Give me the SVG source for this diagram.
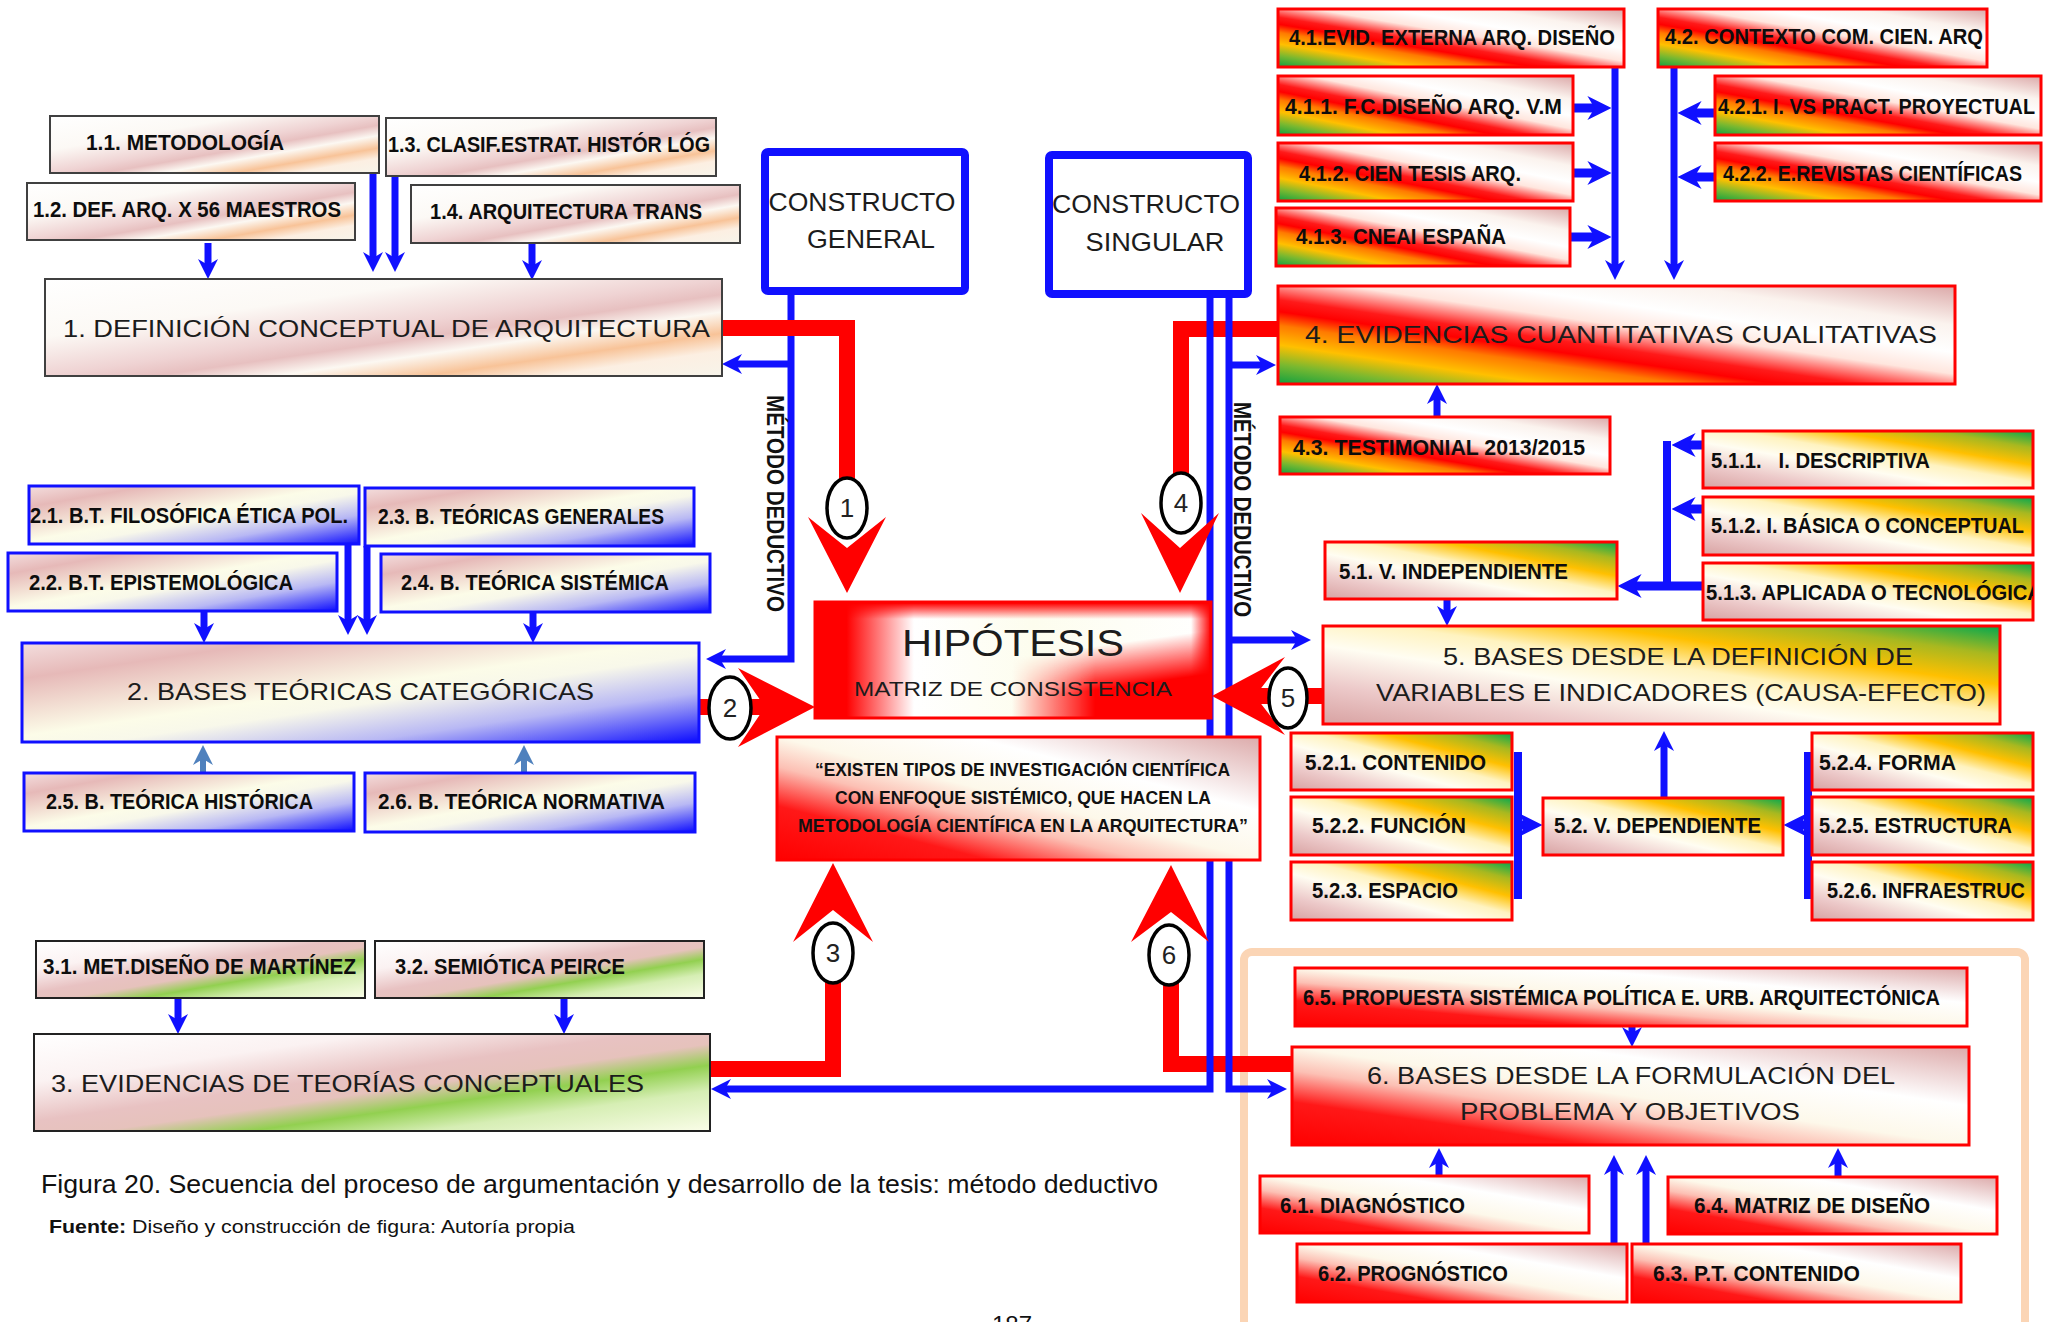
<svg xmlns="http://www.w3.org/2000/svg" width="2049" height="1322" viewBox="0 0 2049 1322">
<defs>
<style>
.lbl{font-family:"Liberation Sans",Arial,sans-serif;font-weight:bold;font-size:22px;fill:#0d0d0d}
.big{font-family:"Liberation Sans",Arial,sans-serif;font-size:24px;fill:#1c1c1c}
.q{font-family:"Liberation Sans",Arial,sans-serif;font-weight:bold;font-size:18px;fill:#111}
.num{font-family:"Liberation Sans",Arial,sans-serif;font-size:26px;fill:#222;text-anchor:middle}
.con{font-family:"Liberation Sans",Arial,sans-serif;font-size:25px;fill:#1c1c1c;text-anchor:middle}
.md{font-family:"Liberation Sans",Arial,sans-serif;font-weight:bold;font-size:24px;fill:#111}
.s1{fill:url(#g1);stroke:#404040;stroke-width:2}
.s2{fill:url(#g2);stroke:#1010ff;stroke-width:3}
.s3{fill:url(#g3);stroke:#222;stroke-width:2}
.s4{fill:url(#g4);stroke:#ff0000;stroke-width:3}
.s5{fill:url(#g5);stroke:#ff0000;stroke-width:3}
.s6{fill:url(#g6);stroke:#ff0000;stroke-width:3}
.bl{fill:none;stroke:#1010ff;stroke-width:7;stroke-linejoin:miter}
.blk{fill:none;stroke:#1010ff;stroke-width:9}
.sb{fill:none;stroke:#4f81bd;stroke-width:6}
.rd{fill:none;stroke:#ff0000;stroke-width:16;stroke-linejoin:miter}
.ra{fill:#ff0000}
.cir{fill:#fff;stroke:#000;stroke-width:3.5}
.cbox{fill:#fff;stroke:#1010ff;stroke-width:8}
</style>
<marker id="mb" viewBox="0 0 10 10" refX="4" refY="5" markerWidth="20" markerHeight="20" markerUnits="userSpaceOnUse" orient="auto"><path d="M0,0 L10,5 L0,10 L3,5z" fill="#1010ff"/></marker>
<marker id="mbB" viewBox="0 0 10 10" refX="4" refY="5" markerWidth="24" markerHeight="24" markerUnits="userSpaceOnUse" orient="auto"><path d="M0,0 L10,5 L0,10 L3,5z" fill="#1010ff"/></marker>
<marker id="ms" viewBox="0 0 10 10" refX="4" refY="5" markerWidth="20" markerHeight="20" markerUnits="userSpaceOnUse" orient="auto"><path d="M0,0 L10,5 L0,10 L3,5z" fill="#4f81bd"/></marker>
<linearGradient id="g1" x1="0" y1="0" x2="1" y2="1">
<stop offset="0" stop-color="#ffffff"/><stop offset="0.3" stop-color="#fcf9f5"/><stop offset="0.5" stop-color="#efd3d3"/><stop offset="0.58" stop-color="#e7c0c0"/><stop offset="0.67" stop-color="#fcf8f2"/><stop offset="0.78" stop-color="#f8c398"/><stop offset="0.87" stop-color="#fcefe2"/><stop offset="1" stop-color="#f7f4ea"/>
</linearGradient>
<linearGradient id="g2" x1="0" y1="0" x2="1" y2="1">
<stop offset="0" stop-color="#f3dede"/><stop offset="0.18" stop-color="#e6b9b8"/><stop offset="0.47" stop-color="#fcfce8"/><stop offset="0.56" stop-color="#f8f8ea"/><stop offset="0.75" stop-color="#b8b8f4"/><stop offset="1" stop-color="#0c0cff"/>
</linearGradient>
<linearGradient id="g3" x1="0" y1="0" x2="1" y2="1">
<stop offset="0" stop-color="#ffffff"/><stop offset="0.25" stop-color="#fbf2f2"/><stop offset="0.45" stop-color="#e8c2c2"/><stop offset="0.55" stop-color="#e6c2bc"/><stop offset="0.66" stop-color="#92d050"/><stop offset="0.79" stop-color="#d6eeb4"/><stop offset="1" stop-color="#fafde8"/>
</linearGradient>
<linearGradient id="g4" x1="0" y1="1" x2="1" y2="0">
<stop offset="0" stop-color="#10a040"/><stop offset="0.1" stop-color="#78b830"/><stop offset="0.2" stop-color="#ffc000"/><stop offset="0.3" stop-color="#ff7a00"/><stop offset="0.37" stop-color="#ff0000"/><stop offset="0.43" stop-color="#ff1a1a"/><stop offset="0.55" stop-color="#ffe6de"/><stop offset="0.66" stop-color="#ffffff"/><stop offset="0.8" stop-color="#fbf3ee"/><stop offset="1" stop-color="#dba8a8"/>
</linearGradient>
<linearGradient id="g5" x1="0" y1="1" x2="1" y2="0">
<stop offset="0" stop-color="#d8a2a2"/><stop offset="0.2" stop-color="#ecc9c9"/><stop offset="0.4" stop-color="#fffdf2"/><stop offset="0.55" stop-color="#fff3c0"/><stop offset="0.7" stop-color="#ffc000"/><stop offset="0.85" stop-color="#a8b820"/><stop offset="1" stop-color="#00a850"/>
</linearGradient>
<linearGradient id="g6" x1="0" y1="1" x2="1" y2="0">
<stop offset="0" stop-color="#ff0000"/><stop offset="0.22" stop-color="#ff1818"/><stop offset="0.38" stop-color="#fcc0b4"/><stop offset="0.5" stop-color="#fdf8ea"/><stop offset="0.7" stop-color="#ffffff"/><stop offset="1" stop-color="#dcaaaa"/>
</linearGradient>
<linearGradient id="gHx" x1="0" y1="0" x2="1" y2="0">
<stop offset="0" stop-color="#ff0000"/><stop offset="0.08" stop-color="#ff0000"/><stop offset="0.25" stop-color="#ffffff"/><stop offset="0.55" stop-color="#fdfdee"/><stop offset="1" stop-color="#ffffff"/>
</linearGradient>
<linearGradient id="gHr" gradientUnits="userSpaceOnUse" x1="1012" y1="0" x2="1095" y2="0">
<stop offset="0" stop-color="#ff0000" stop-opacity="0"/><stop offset="1" stop-color="#ff0000" stop-opacity="1"/>
</linearGradient>
<linearGradient id="gHm" gradientUnits="userSpaceOnUse" x1="1104" y1="645" x2="1110" y2="688">
<stop offset="0" stop-color="#000000"/><stop offset="1" stop-color="#ffffff"/>
</linearGradient>
<mask id="mH"><rect x="815" y="602" width="396" height="116" fill="url(#gHm)"/></mask>
<linearGradient id="gHt" x1="0" y1="0" x2="0" y2="1">
<stop offset="0" stop-color="#ff0000" stop-opacity="1"/><stop offset="1" stop-color="#ff0000" stop-opacity="0"/>
</linearGradient>
<linearGradient id="gHe" x1="0" y1="0" x2="1" y2="0">
<stop offset="0" stop-color="#ff0000" stop-opacity="0"/><stop offset="1" stop-color="#ff0000" stop-opacity="1"/>
</linearGradient>
<clipPath id="c513"><rect x="1703" y="563" width="330" height="57"/></clipPath>
</defs>

<!-- frame of group 6 -->
<rect x="1244" y="952" width="781" height="420" rx="8" fill="none" stroke="#fbd5b5" stroke-width="8"/>

<g id="connectors">
<path class="bl" d="M791,295 V659 H718" marker-end="url(#mb)"/>
<path class="bl" d="M791,364 H734" marker-end="url(#mb)"/>
<path class="rd" d="M722,328 H847 V525"/>
<path class="rd" d="M1283,329 H1181 V520"/>
<path class="rd" d="M698,707 H766"/>
<path class="rd" d="M1324,696 H1250"/>
<path class="rd" d="M710,1069 H833 V955"/>
<path class="rd" d="M1292,1064 H1171 V955"/>
<path class="bl" d="M1210,298 V1089 H723" marker-end="url(#mb)"/>
<path class="bl" d="M1229,298 V1089 H1275" marker-end="url(#mb)"/>
<path class="bl" d="M1229,365 H1264" marker-end="url(#mb)"/>
<path class="bl" d="M1229,640 H1299" marker-end="url(#mb)"/>
<path class="bl" d="M208,243 V267" marker-end="url(#mb)"/>
<path class="bl" d="M373,173 V260" marker-end="url(#mb)"/>
<path class="bl" d="M395,176 V260" marker-end="url(#mb)"/>
<path class="bl" d="M532,243 V268" marker-end="url(#mb)"/>
<path class="bl" d="M204,611 V631" marker-end="url(#mb)"/>
<path class="bl" d="M348,544 V623" marker-end="url(#mb)"/>
<path class="bl" d="M367,546 V623" marker-end="url(#mb)"/>
<path class="bl" d="M533,612 V631" marker-end="url(#mb)"/>
<path class="sb" d="M203,773 V757" marker-end="url(#ms)"/>
<path class="sb" d="M524,773 V757" marker-end="url(#ms)"/>
<path class="bl" d="M178,998 V1022" marker-end="url(#mb)"/>
<path class="bl" d="M564,998 V1022" marker-end="url(#mb)"/>
<path class="bl" d="M1615,67 V268" marker-end="url(#mb)"/>
<path class="bl" d="M1674,67 V268" marker-end="url(#mb)"/>
<path class="blk" d="M1573,108 H1597" marker-end="url(#mbB)"/>
<path class="blk" d="M1573,173 H1597" marker-end="url(#mbB)"/>
<path class="blk" d="M1570,237 H1597" marker-end="url(#mbB)"/>
<path class="blk" d="M1715,113 H1692" marker-end="url(#mbB)"/>
<path class="blk" d="M1715,177 H1692" marker-end="url(#mbB)"/>
<path class="bl" d="M1437,417 V396" marker-end="url(#mb)"/>
<path class="bl" d="M1667,441 V590" style="stroke-width:8"/>
<path class="blk" d="M1703,445 H1686" marker-end="url(#mbB)"/>
<path class="blk" d="M1703,509 H1686" marker-end="url(#mbB)"/>
<path class="blk" d="M1703,586 H1632" marker-end="url(#mbB)"/>
<path class="bl" d="M1447,599 V614" marker-end="url(#mb)"/>
<path class="bl" d="M1664,798 V743" marker-end="url(#mb)"/>
<path class="bl" d="M1518,752 V899" style="stroke-width:8"/>
<path class="blk" d="M1518,825 H1528" marker-end="url(#mbB)"/>
<path class="bl" d="M1808,752 V899" style="stroke-width:8"/>
<path class="blk" d="M1808,825 H1798" marker-end="url(#mbB)"/>
<path class="bl" d="M1632,1026 V1035" marker-end="url(#mb)"/>
<path class="bl" d="M1439,1176 V1160" marker-end="url(#mb)"/>
<path class="bl" d="M1838,1177 V1160" marker-end="url(#mb)"/>
<path class="bl" d="M1614,1244 V1167" marker-end="url(#mb)"/>
<path class="bl" d="M1646,1244 V1167" marker-end="url(#mb)"/>
</g>

<g id="constructo-general">
<rect class="cbox" x="765" y="152" width="200" height="139" rx="3"/>
<text class="con" x="862" y="211" textLength="187" lengthAdjust="spacingAndGlyphs">CONSTRUCTO</text>
<text class="con" x="871" y="248" textLength="128" lengthAdjust="spacingAndGlyphs">GENERAL</text>
</g>
<g id="constructo-singular">
<rect class="cbox" x="1049" y="155" width="199" height="139" rx="3"/>
<text class="con" x="1146" y="213" textLength="188" lengthAdjust="spacingAndGlyphs">CONSTRUCTO</text>
<text class="con" x="1155" y="251" textLength="139" lengthAdjust="spacingAndGlyphs">SINGULAR</text>
</g>

<text class="md" transform="translate(767,395) rotate(90)" textLength="217" lengthAdjust="spacingAndGlyphs">MÉTODO DEDUCTIVO</text>
<text class="md" transform="translate(1234,402) rotate(90)" textLength="215" lengthAdjust="spacingAndGlyphs">MÉTODO DEDUCTIVO</text>

<g id="n1-1"><rect class="s1" x="50" y="116" width="329" height="57"/><text class="lbl" x="86" y="150" textLength="198" lengthAdjust="spacingAndGlyphs">1.1. METODOLOGÍA</text></g>
<g id="n1-3"><rect class="s1" x="386" y="118" width="330" height="58"/><text class="lbl" x="388" y="152" textLength="322" lengthAdjust="spacingAndGlyphs">1.3. CLASIF.ESTRAT. HISTÓR LÓG</text></g>
<g id="n1-2"><rect class="s1" x="27" y="183" width="328" height="57"/><text class="lbl" x="33" y="217" textLength="308" lengthAdjust="spacingAndGlyphs">1.2. DEF. ARQ. X 56 MAESTROS</text></g>
<g id="n1-4"><rect class="s1" x="411" y="185" width="329" height="58"/><text class="lbl" x="430" y="219" textLength="272" lengthAdjust="spacingAndGlyphs">1.4. ARQUITECTURA TRANS</text></g>
<g id="n1"><rect class="s1" x="45" y="279" width="677" height="97"/><text class="big" x="63" y="337" textLength="647" lengthAdjust="spacingAndGlyphs">1. DEFINICIÓN CONCEPTUAL DE ARQUITECTURA</text></g>

<g id="n2-1"><rect class="s2" x="29" y="486" width="330" height="58"/><text class="lbl" x="30" y="523" textLength="318" lengthAdjust="spacingAndGlyphs">2.1. B.T. FILOSÓFICA ÉTICA POL.</text></g>
<g id="n2-3"><rect class="s2" x="365" y="488" width="329" height="58"/><text class="lbl" x="378" y="524" textLength="286" lengthAdjust="spacingAndGlyphs">2.3. B. TEÓRICAS GENERALES</text></g>
<g id="n2-2"><rect class="s2" x="8" y="553" width="329" height="58"/><text class="lbl" x="29" y="590" textLength="264" lengthAdjust="spacingAndGlyphs">2.2. B.T. EPISTEMOLÓGICA</text></g>
<g id="n2-4"><rect class="s2" x="381" y="554" width="329" height="58"/><text class="lbl" x="401" y="590" textLength="268" lengthAdjust="spacingAndGlyphs">2.4. B. TEÓRICA SISTÉMICA</text></g>
<g id="n2"><rect class="s2" x="22" y="643" width="677" height="99"/><text class="big" x="127" y="700" textLength="467" lengthAdjust="spacingAndGlyphs">2. BASES TEÓRICAS CATEGÓRICAS</text></g>
<g id="n2-5"><rect class="s2" x="24" y="773" width="330" height="58"/><text class="lbl" x="46" y="809" textLength="267" lengthAdjust="spacingAndGlyphs">2.5. B. TEÓRICA HISTÓRICA</text></g>
<g id="n2-6"><rect class="s2" x="365" y="773" width="330" height="59"/><text class="lbl" x="378" y="809" textLength="287" lengthAdjust="spacingAndGlyphs">2.6. B. TEÓRICA NORMATIVA</text></g>

<g id="n3-1"><rect class="s3" x="36" y="941" width="329" height="57"/><text class="lbl" x="43" y="974" textLength="313" lengthAdjust="spacingAndGlyphs">3.1. MET.DISEÑO DE MARTÍNEZ</text></g>
<g id="n3-2"><rect class="s3" x="375" y="941" width="329" height="57"/><text class="lbl" x="395" y="974" textLength="230" lengthAdjust="spacingAndGlyphs">3.2. SEMIÓTICA PEIRCE</text></g>
<g id="n3"><rect class="s3" x="34" y="1034" width="676" height="97"/><text class="big" x="51" y="1092" textLength="593" lengthAdjust="spacingAndGlyphs">3. EVIDENCIAS DE TEORÍAS CONCEPTUALES</text></g>

<g id="n4-1"><rect class="s4" x="1278" y="9" width="346" height="58"/><text class="lbl" x="1289" y="45" textLength="326" lengthAdjust="spacingAndGlyphs">4.1.EVID. EXTERNA ARQ. DISEÑO</text></g>
<g id="n4-2"><rect class="s4" x="1658" y="9" width="329" height="58"/><text class="lbl" x="1665" y="44" textLength="318" lengthAdjust="spacingAndGlyphs">4.2. CONTEXTO COM. CIEN. ARQ</text></g>
<g id="n4-1-1"><rect class="s4" x="1278" y="76" width="295" height="59"/><text class="lbl" x="1285" y="114" textLength="277" lengthAdjust="spacingAndGlyphs">4.1.1. F.C.DISEÑO ARQ. V.M</text></g>
<g id="n4-2-1"><rect class="s4" x="1715" y="76" width="326" height="59"/><text class="lbl" x="1718" y="114" textLength="317" lengthAdjust="spacingAndGlyphs">4.2.1. I. VS PRACT. PROYECTUAL</text></g>
<g id="n4-1-2"><rect class="s4" x="1278" y="143" width="295" height="58"/><text class="lbl" x="1299" y="181" textLength="222" lengthAdjust="spacingAndGlyphs">4.1.2. CIEN TESIS ARQ.</text></g>
<g id="n4-2-2"><rect class="s4" x="1715" y="143" width="326" height="58"/><text class="lbl" x="1723" y="181" textLength="299" lengthAdjust="spacingAndGlyphs">4.2.2. E.REVISTAS CIENTÍFICAS</text></g>
<g id="n4-1-3"><rect class="s4" x="1276" y="208" width="294" height="58"/><text class="lbl" x="1296" y="244" textLength="210" lengthAdjust="spacingAndGlyphs">4.1.3. CNEAI ESPAÑA</text></g>
<g id="n4"><rect class="s4" x="1278" y="286" width="677" height="98"/><text class="big" x="1305" y="343" textLength="632" lengthAdjust="spacingAndGlyphs">4. EVIDENCIAS CUANTITATIVAS CUALITATIVAS</text></g>
<g id="n4-3"><rect class="s4" x="1280" y="417" width="330" height="57"/><text class="lbl" x="1293" y="455" textLength="292" lengthAdjust="spacingAndGlyphs">4.3. TESTIMONIAL 2013/2015</text></g>

<g id="n5-1-1"><rect class="s5" x="1703" y="431" width="330" height="57"/><text class="lbl" x="1711" y="468" textLength="219" lengthAdjust="spacingAndGlyphs" xml:space="preserve">5.1.1.   I. DESCRIPTIVA</text></g>
<g id="n5-1-2"><rect class="s5" x="1703" y="497" width="330" height="58"/><text class="lbl" x="1711" y="533" textLength="313" lengthAdjust="spacingAndGlyphs">5.1.2. I. BÁSICA O CONCEPTUAL</text></g>
<g id="n5-1-3"><rect class="s5" x="1703" y="563" width="330" height="57"/><text class="lbl" x="1706" y="600" textLength="336" lengthAdjust="spacingAndGlyphs" clip-path="url(#c513)">5.1.3. APLICADA O TECNOLÓGICA</text></g>
<g id="n5-1"><rect class="s5" x="1325" y="542" width="292" height="57"/><text class="lbl" x="1339" y="579" textLength="229" lengthAdjust="spacingAndGlyphs">5.1. V. INDEPENDIENTE</text></g>
<g id="n5"><rect class="s5" x="1323" y="626" width="677" height="98"/><text class="big" x="1443" y="665" textLength="470" lengthAdjust="spacingAndGlyphs">5. BASES DESDE LA DEFINICIÓN DE</text><text class="big" x="1376" y="701" textLength="610" lengthAdjust="spacingAndGlyphs">VARIABLES E INDICADORES (CAUSA-EFECTO)</text></g>
<g id="n5-2-1"><rect class="s5" x="1291" y="733" width="221" height="57"/><text class="lbl" x="1305" y="770" textLength="181" lengthAdjust="spacingAndGlyphs">5.2.1. CONTENIDO</text></g>
<g id="n5-2-2"><rect class="s5" x="1291" y="797" width="221" height="58"/><text class="lbl" x="1312" y="833" textLength="154" lengthAdjust="spacingAndGlyphs">5.2.2. FUNCIÓN</text></g>
<g id="n5-2-3"><rect class="s5" x="1291" y="862" width="221" height="58"/><text class="lbl" x="1312" y="898" textLength="146" lengthAdjust="spacingAndGlyphs">5.2.3. ESPACIO</text></g>
<g id="n5-2"><rect class="s5" x="1543" y="798" width="240" height="57"/><text class="lbl" x="1554" y="833" textLength="207" lengthAdjust="spacingAndGlyphs">5.2. V. DEPENDIENTE</text></g>
<g id="n5-2-4"><rect class="s5" x="1812" y="733" width="221" height="57"/><text class="lbl" x="1819" y="770" textLength="137" lengthAdjust="spacingAndGlyphs">5.2.4. FORMA</text></g>
<g id="n5-2-5"><rect class="s5" x="1812" y="797" width="221" height="58"/><text class="lbl" x="1819" y="833" textLength="193" lengthAdjust="spacingAndGlyphs">5.2.5. ESTRUCTURA</text></g>
<g id="n5-2-6"><rect class="s5" x="1812" y="862" width="221" height="58"/><text class="lbl" x="1827" y="898" textLength="198" lengthAdjust="spacingAndGlyphs">5.2.6. INFRAESTRUC</text></g>

<g id="n6-5"><rect class="s6" x="1295" y="968" width="672" height="58"/><text class="lbl" x="1303" y="1005" textLength="637" lengthAdjust="spacingAndGlyphs">6.5. PROPUESTA SISTÉMICA POLÍTICA E. URB. ARQUITECTÓNICA</text></g>
<g id="n6"><rect class="s6" x="1292" y="1047" width="677" height="98"/><text class="big" x="1367" y="1084" textLength="528" lengthAdjust="spacingAndGlyphs">6. BASES DESDE LA FORMULACIÓN DEL</text><text class="big" x="1460" y="1120" textLength="340" lengthAdjust="spacingAndGlyphs">PROBLEMA Y OBJETIVOS</text></g>
<g id="n6-1"><rect class="s6" x="1260" y="1176" width="329" height="57"/><text class="lbl" x="1280" y="1213" textLength="185" lengthAdjust="spacingAndGlyphs">6.1. DIAGNÓSTICO</text></g>
<g id="n6-4"><rect class="s6" x="1668" y="1177" width="329" height="57"/><text class="lbl" x="1694" y="1213" textLength="236" lengthAdjust="spacingAndGlyphs">6.4. MATRIZ DE DISEÑO</text></g>
<g id="n6-2"><rect class="s6" x="1297" y="1244" width="330" height="58"/><text class="lbl" x="1318" y="1281" textLength="190" lengthAdjust="spacingAndGlyphs">6.2. PROGNÓSTICO</text></g>
<g id="n6-3"><rect class="s6" x="1632" y="1244" width="329" height="58"/><text class="lbl" x="1653" y="1281" textLength="207" lengthAdjust="spacingAndGlyphs">6.3. P.T. CONTENIDO</text></g>

<g id="hipotesis">
<rect x="815" y="602" width="396" height="116" fill="url(#gHx)"/>
<rect x="1000" y="602" width="211" height="116" fill="url(#gHr)" mask="url(#mH)"/>
<rect x="815" y="603" width="396" height="16" fill="url(#gHt)"/>
<rect x="1191" y="602" width="20" height="116" fill="url(#gHe)"/>
<rect x="815" y="602" width="396" height="116" fill="none" stroke="#ff0000" stroke-width="3"/>
<text x="902" y="656" textLength="222" lengthAdjust="spacingAndGlyphs" style="font-family:'Liberation Sans',Arial,sans-serif;font-size:36px;fill:#1c1c1c">HIPÓTESIS</text>
<text x="854" y="696" textLength="318" lengthAdjust="spacingAndGlyphs" style="font-family:'Liberation Sans',Arial,sans-serif;font-size:20px;fill:#1c1c1c">MATRIZ DE CONSISTENCIA</text>
</g>
<g id="cita"><rect class="s6" x="777" y="737" width="483" height="123"/>
<text class="q" x="815" y="776" textLength="415" lengthAdjust="spacingAndGlyphs">“EXISTEN TIPOS DE INVESTIGACIÓN CIENTÍFICA</text>
<text class="q" x="835" y="804" textLength="376" lengthAdjust="spacingAndGlyphs">CON ENFOQUE SISTÉMICO, QUE HACEN LA</text>
<text class="q" x="798" y="832" textLength="450" lengthAdjust="spacingAndGlyphs">METODOLOGÍA CIENTÍFICA EN LA ARQUITECTURA”</text></g>

<g id="pasos">
<polygon class="ra" points="808,517 847,593 886,517 847,548"/>
<polygon class="ra" points="1141,513 1180,593 1219,513 1180,548"/>
<polygon class="ra" points="738,668 815,707 738,747 765,707"/>
<polygon class="ra" points="1285,657 1212,696 1285,735 1255,696"/>
<polygon class="ra" points="793,942 833,863 873,942 833,910"/>
<polygon class="ra" points="1131,942 1171,865 1209,942 1171,912"/>
<ellipse class="cir" cx="847" cy="508" rx="20" ry="30"/><text class="num" x="847" y="517">1</text>
<ellipse class="cir" cx="730" cy="708" rx="21" ry="31"/><text class="num" x="730" y="717">2</text>
<ellipse class="cir" cx="833" cy="953" rx="20" ry="30"/><text class="num" x="833" y="962">3</text>
<ellipse class="cir" cx="1181" cy="503" rx="20" ry="30"/><text class="num" x="1181" y="512">4</text>
<ellipse class="cir" cx="1288" cy="698" rx="19" ry="30"/><text class="num" x="1288" y="707">5</text>
<ellipse class="cir" cx="1169" cy="955" rx="20" ry="30"/><text class="num" x="1169" y="964">6</text>
</g>

<text x="41" y="1193" textLength="1117" lengthAdjust="spacingAndGlyphs" style="font-family:'Liberation Sans',Arial,sans-serif;font-size:25px;fill:#111">Figura 20. Secuencia del proceso de argumentación y desarrollo de la tesis: método deductivo</text>
<text x="49" y="1233" textLength="526" lengthAdjust="spacingAndGlyphs" style="font-family:'Liberation Sans',Arial,sans-serif;font-size:19px;fill:#111"><tspan font-weight="bold">Fuente:</tspan> Diseño y construcción de figura: Autoría propia</text>
<text x="992" y="1333" style="font-family:'Liberation Sans',Arial,sans-serif;font-size:24px;fill:#111">187</text>
</svg>
